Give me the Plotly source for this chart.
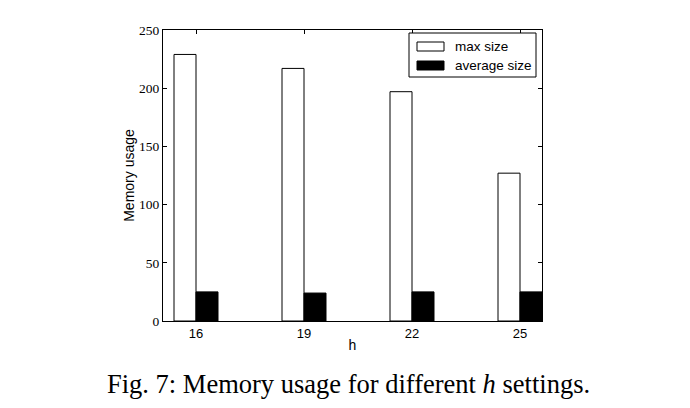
import plotly.graph_objects as go

categories = ["16", "19", "22", "25"]
max_size = [229, 217, 197, 127]
avg_size = [25, 24, 25, 25]
series_names = ["max size", "average size"]

xpos = list(range(len(categories)))
bw = 0.2037

fig = go.Figure()
fig.add_trace(go.Bar(x=xpos, y=max_size, name=series_names[0], width=bw, offset=-bw,
                     marker=dict(color="white", line=dict(color="black", width=1))))
fig.add_trace(go.Bar(x=xpos, y=avg_size, name=series_names[1], width=bw, offset=0,
                     marker=dict(color="black", line=dict(color="black", width=1))))

L, R, T, B = 163, 148, 30, 87
W, H = 690, 408
pw, ph = W - L - R, H - T - B

def px(x):
    return (x - L) / pw

def py(y):
    return (H - B - y) / ph

sans = "Liberation Sans, Arial, sans-serif"
serif = "Liberation Serif, Times New Roman, serif"

fig.update_layout(
    width=W, height=H,
    margin=dict(l=L, r=R, t=T, b=B),
    paper_bgcolor="white", plot_bgcolor="white",
    barmode="overlay",
    showlegend=False,
    xaxis=dict(range=[-0.3056, 3.2037], tickmode="array", tickvals=xpos, ticktext=categories,
               showgrid=False, zeroline=False, showline=True, linecolor="black", linewidth=1,
               mirror="ticks", ticks="inside", ticklen=4, tickcolor="black",
               tickfont=dict(family=sans, size=13, color="black"),
               title=dict(text="h", font=dict(family=sans, size=14, color="black"), standoff=0)),
    yaxis=dict(range=[0, 250], tickvals=[0, 50, 100, 150, 200, 250],
               showgrid=False, zeroline=False, showline=True, linecolor="black", linewidth=1,
               mirror="ticks", ticks="inside", ticklen=4, tickcolor="black",
               tickfont=dict(family=serif, size=13.5, color="black"),
               title=dict(text="Memory usage", font=dict(family=sans, size=14, color="black"), standoff=1)),
)

# legend box (drawn manually for wide rectangular swatches)
fig.add_shape(type="rect", xref="paper", yref="paper",
              x0=px(409), x1=px(536), y0=py(77), y1=py(33),
              line=dict(color="black", width=1), fillcolor="white", layer="above")
swatch_fill = ["white", "black"]
swatch_y = [(42, 51), (61, 70)]
for name, fill, (ya, yb) in zip(series_names, swatch_fill, swatch_y):
    fig.add_shape(type="rect", xref="paper", yref="paper",
                  x0=px(417), x1=px(444), y0=py(yb), y1=py(ya),
                  line=dict(color="black", width=1), fillcolor=fill, layer="above")
    fig.add_annotation(text=name, xref="paper", yref="paper",
                       x=px(453), y=py((ya + yb) / 2), xanchor="left", yanchor="middle",
                       showarrow=False, font=dict(family=sans, size=13.5, color="black"))

fig.add_annotation(text="Fig. 7: Memory usage for different <i>h</i> settings.",
                   xref="paper", yref="paper", x=px(348.5), y=py(384), xanchor="center", yanchor="middle",
                   showarrow=False,
                   font=dict(family=serif, size=26.5, color="black"))

fig.write_html("out.html")
